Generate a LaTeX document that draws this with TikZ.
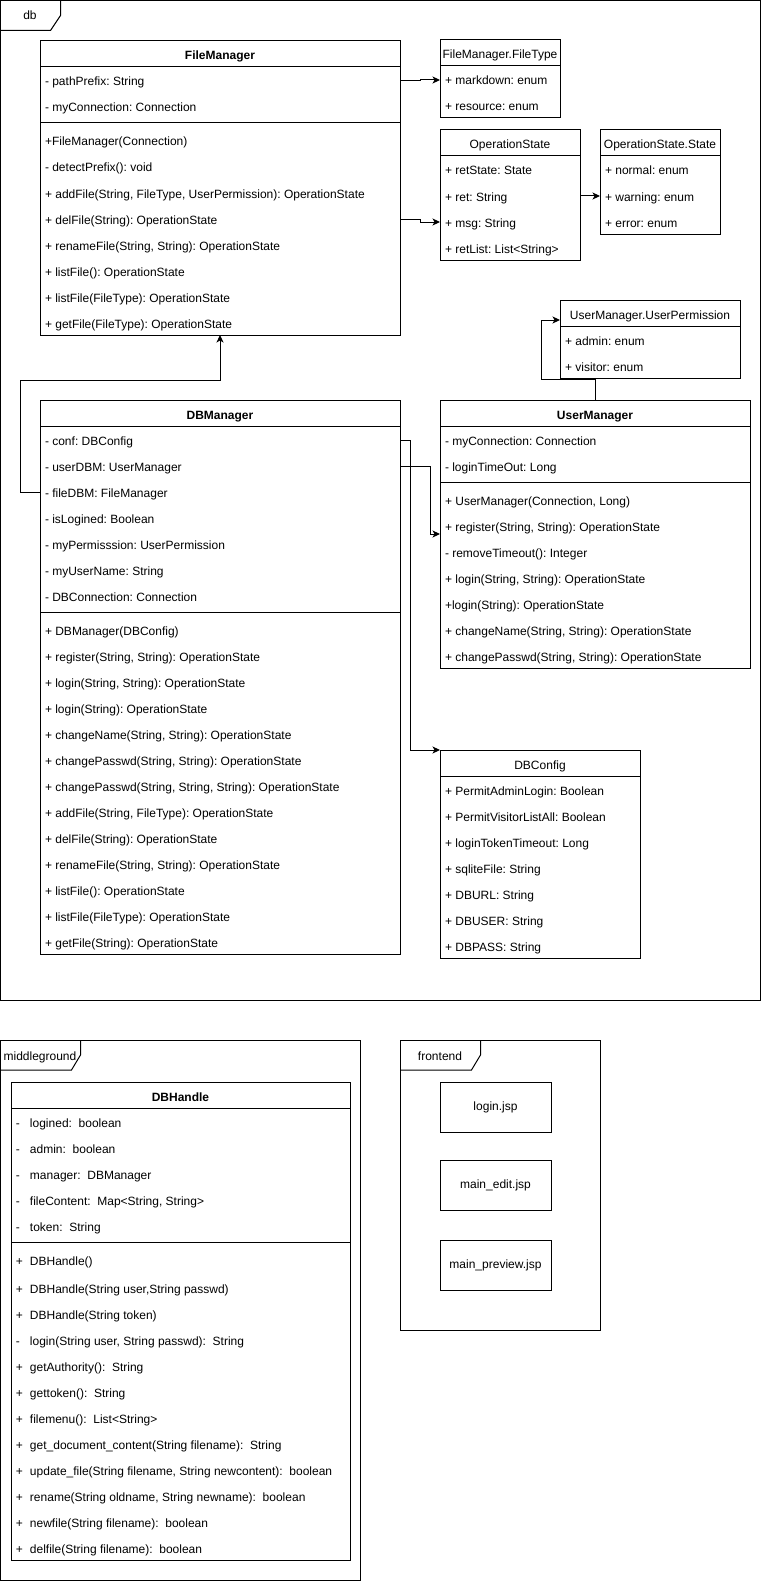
\documentclass[tikz,border=0pt]{standalone}
\usepackage{fontspec}
\setmainfont{Liberation Sans}
\frenchspacing
\usetikzlibrary{arrows.meta,calc}
\tikzset{
  base/.style={font=\fontsize{12}{14}\selectfont\frenchspacing},
  boxline/.style={line width=1pt, draw=black},
  box/.style={boxline, rectangle, inner sep=0pt, outer sep=0pt, fill=white},
  framebox/.style={boxline, rectangle, inner sep=0pt, outer sep=0pt},
  rowtxt/.style={base, anchor=west, inner sep=0pt, outer sep=0pt, text height=11pt, text depth=1pt},
  titletxt/.style={base, anchor=center, inner sep=0pt, outer sep=0pt, text height=11pt, text depth=1pt},
  conn/.style={line width=1pt, -{Stealth[length=7.5pt,width=7pt,inset=2pt]}},
  jsp/.style={box, minimum width=111pt, minimum height=50pt, base},
}
% class box: name, left, top, width, height, title, title font
\newcommand\clsbox[7]{%
  \node[box, minimum width=#4pt, minimum height=#5pt, anchor=north west] (#1) at (#2,#3) {};
  \node[titletxt] (#1t) at ({#2+#4/2},{#3+14}) {#7#6};
  \draw[boxline] ({#2},{#3+26}) -- ++(#4,0);
}
% rows: name prefix, left, first row centre, list
\newcommand\rowsat[4]{%
  \foreach \rowtext [count=\ri] in {#4} {
    \node[rowtxt] (#1\ri) at ({#2+5},{#3+26*(\ri-1)+1}) {\rowtext};
  }
}
\newcommand\sepline[3]{\draw[boxline] (#1,#2) -- ++(#3,0);}
\newcommand\sym[1]{\makebox[14pt][l]{#1}}
\begin{document}
\begin{tikzpicture}[x=1pt,y=-1pt]
\fill[white] (0,0) rectangle (761,1581);
\useasboundingbox (0,0) rectangle (761,1581);

% ---------- frames ----------
\node[framebox, minimum width=760pt, minimum height=999.5pt, anchor=north west] (dbF) at (0.5,0.5) {};
\draw[boxline] ($(dbF.north west)+(60,0)$) -- ++(0,15) -- ++(-10,15) -- ++(-50,0);
\node[titletxt] (dbL) at (30,15) {db};

\node[framebox, minimum width=360pt, minimum height=540pt, anchor=north west] (mgF) at (0.5,1040) {};
\draw[boxline] ($(mgF.north west)+(80,0)$) -- ++(0,15) -- ++(-9,15) -- ++(-71,0);
\node[titletxt] (mgL) at (40,1055) {middleground};

\node[framebox, minimum width=200pt, minimum height=290pt, anchor=north west] (feF) at (400.5,1040) {};
\draw[boxline] ($(feF.north west)+(80,0)$) -- ++(0,15) -- ++(-9,15) -- ++(-71,0);
\node[titletxt] (feL) at (440,1055) {frontend};

\node[jsp] (jsp1) at (495.5,1107) {login.jsp};
\node[jsp] (jsp2) at (495.5,1185) {main\_edit.jsp};
\node[jsp] (jsp3) at (495.5,1265) {main\_preview.jsp};

% ---------- FileManager ----------
\clsbox{FM}{40}{41}{360}{294}{FileManager}{\bfseries}
\rowsat{FMa}{40}{80}{{- pathPrefix: String},{- myConnection: Connection}}
\sepline{40}{123}{360}
\rowsat{FMm}{40}{140}{{+FileManager(Connection)},{- detectPrefix(): void},{+ addFile(String, FileType, UserPermission): OperationState},{+ delFile(String): OperationState},{+ renameFile(String, String): OperationState},{+ listFile(): OperationState},{+ listFile(FileType): OperationState},{+ getFile(FileType): OperationState}}

% ---------- FileManager.FileType ----------
\clsbox{FT}{440}{40}{120}{78}{FileManager.FileType}{}
\rowsat{FTa}{440}{79}{{+ markdown: enum},{+ resource: enum}}

% ---------- OperationState ----------
\clsbox{OS}{440}{130}{140}{130}{OperationState}{}
\rowsat{OSa}{440}{169}{{+ retState: State},{+ ret: String},{+ msg: String},{+ retList: List<String>}}

% ---------- OperationState.State ----------
\clsbox{ST}{600}{130}{120}{104}{OperationState.State}{}
\rowsat{STa}{600}{169}{{+ normal: enum},{+ warning: enum},{+ error: enum}}

% ---------- UserManager.UserPermission ----------
\clsbox{UP}{560}{300}{180}{78}{UserManager.UserPermission}{}
\rowsat{UPa}{560}{339}{{+ admin: enum},{+ visitor: enum}}

% ---------- UserManager ----------
\clsbox{UM}{440}{400}{310}{268}{UserManager}{\bfseries}
\rowsat{UMa}{440}{439}{{- myConnection: Connection},{- loginTimeOut: Long}}
\sepline{440}{482}{310}
\rowsat{UMm}{440}{499}{{+ UserManager(Connection, Long)},{+ register(String, String): OperationState},{- removeTimeout(): Integer},{+ login(String, String): OperationState},{+login(String): OperationState},{+ changeName(String, String): OperationState},{+ changePasswd(String, String): OperationState}}

% ---------- DBManager ----------
\clsbox{DM}{40}{400}{360}{554}{DBManager}{\bfseries}
\rowsat{DMa}{40}{439}{{- conf: DBConfig},{- userDBM: UserManager},{- fileDBM: FileManager},{- isLogined: Boolean},{- myPermisssion: UserPermission},{- myUserName: String},{- DBConnection: Connection}}
\sepline{40}{612}{360}
\rowsat{DMm}{40}{629}{{+ DBManager(DBConfig)},{+ register(String, String): OperationState},{+ login(String, String): OperationState},{+ login(String): OperationState},{+ changeName(String, String): OperationState},{+ changePasswd(String, String): OperationState},{+ changePasswd(String, String, String): OperationState},{+ addFile(String, FileType): OperationState},{+ delFile(String): OperationState},{+ renameFile(String, String): OperationState},{+ listFile(): OperationState},{+ listFile(FileType): OperationState},{+ getFile(String): OperationState}}

% ---------- DBConfig ----------
\clsbox{DC}{440}{750}{200}{208}{DBConfig}{}
\rowsat{DCa}{440}{789}{{+ PermitAdminLogin: Boolean},{+ PermitVisitorListAll: Boolean},{+ loginTokenTimeout: Long},{+ sqliteFile: String},{+ DBURL: String},{+ DBUSER: String},{+ DBPASS: String}}

% ---------- DBHandle ----------
\clsbox{DH}{11}{1082}{339}{478}{DBHandle}{\bfseries}
\rowsat{DHa}{11}{1121}{{\sym{-}logined:~~boolean},{\sym{-}admin:~~boolean},{\sym{-}manager:~~DBManager},{\sym{-}fileContent:~~Map<String, String>},{\sym{-}token:~~String}}
\sepline{11}{1242}{339}
\rowsat{DHm}{11}{1259}{{\sym{+}DBHandle()}}
\rowsat{DHx}{11}{1287}{{\sym{+}DBHandle(String user,String passwd)},{\sym{+}DBHandle(String token)},{\sym{-}login(String user, String passwd):~~String},{\sym{+}getAuthority():~~String},{\sym{+}gettoken():~~String},{\sym{+}filemenu():~~List<String>},{\sym{+}get\_document\_content(String filename):~~String},{\sym{+}update\_file(String filename, String newcontent):~~boolean},{\sym{+}rename(String oldname, String newname):~~boolean},{\sym{+}newfile(String filename):~~boolean},{\sym{+}delfile(String filename):~~boolean}}

% ---------- connectors ----------
\draw[conn] (FMa1.west -| FM.east) -- ++(20,0) |- (FTa1.west -| FT.west);
\draw[conn] (FMm4.west -| FM.east) -- ++(20,0) |- (OSa3.west -| OS.west);
\draw[conn] (OSa2.west -| OS.east) -- (OSa2.west -| ST.west);
\coordinate (upIn) at ($(UP.north west)+(0,20)$);
\coordinate (umOut) at ($(UM.north west)+(155,0)$);
\draw[conn] (umOut) -- ++(0,-21) -| ($(upIn)+(-19,0)$) -- (upIn);
\draw[conn] (DMa1.west -| DM.east) -- ++(10,0) |- (DC.north west);
\coordinate (umIn) at ($(UM.north west)+(0,134)$);
\draw[conn] (DMa2.west -| DM.east) -- ++(30,0) |- (umIn);
\draw[conn] (DMa3.west -| DM.west) -- ++(-20,0) |- ($(FM.south)+(0,45)$) -- (FM.south);
\end{tikzpicture}
\end{document}
